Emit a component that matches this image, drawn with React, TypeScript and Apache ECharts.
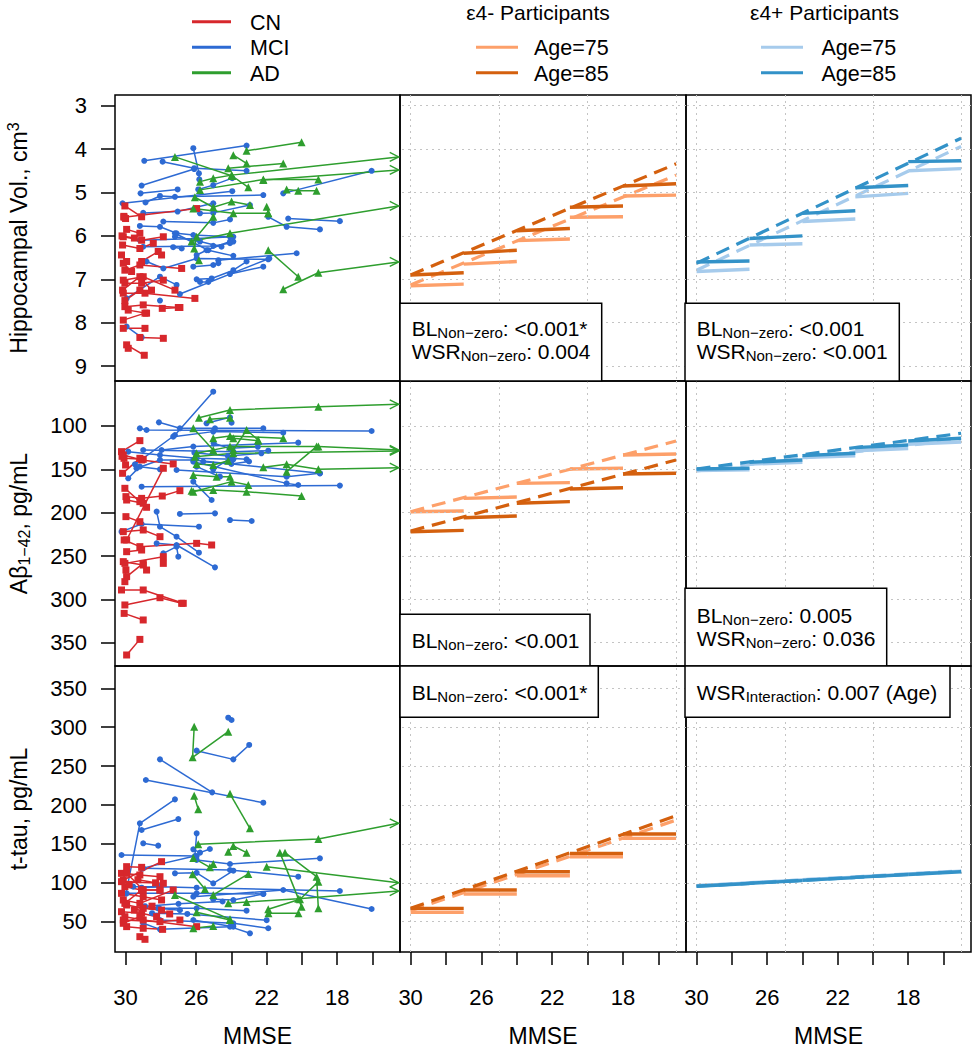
import React, { useEffect, useRef } from "react";
import * as echarts from "echarts";

const FONT = '"Liberation Sans", Arial, Helvetica, sans-serif';

// ---------- axes ----------
const X_MIN = 14.44;
const X_MAX = 30.6;
const X_TICKS = [16, 18, 20, 22, 24, 26, 28, 30];
const X_LABELS = [18, 22, 26, 30];
const X_GRID = [15, 20, 25, 30];
const HIPPO_TICKS = [3, 4, 5, 6, 7, 8, 9];
const ABETA_TICKS = [100, 150, 200, 250, 300, 350];
const TAU_TICKS = [50, 100, 150, 200, 250, 300, 350];
const Y_MIN = [2.754, 48.1, 11.1];
const Y_MAX = [9.343, 376.9, 378.7];
const Y_INVERSE = [true, true, false];
const Y_TICKS = [HIPPO_TICKS, ABETA_TICKS, TAU_TICKS];

// ---------- observed trajectories: [MMSE, value] ----------
const HIPPO_MCI = [
  [[28.94, 4.27], [23.14, 3.92]],
  [[27.9, 4.29], [26.11, 4.44], [23.14, 4.5]],
  [[26.16, 3.98], [25.84, 4.56], [25.82, 4.7]],
  [[29.09, 4.84], [26.11, 4.46]],
  [[29.15, 5.02], [27.05, 4.93]],
  [[30.17, 5.25], [23.95, 4.97]],
  [[28.87, 5.23], [28.05, 5.08], [27.2, 5.1], [22.19, 5.06]],
  [[21.06, 5.02], [16.05, 4.5]],
  [[29.0, 5.47], [27.05, 5.44], [25.03, 5.25]],
  [[25.88, 4.93], [25.03, 4.83], [23.95, 4.67]],
  [[25.78, 5.48], [25.03, 5.47], [22.95, 5.29]],
  [[29.19, 5.77], [28.05, 5.79], [27.11, 5.94], [26.16, 5.98], [24.08, 6.02]],
  [[27.86, 5.67], [25.03, 5.7], [24.08, 5.62]],
  [[21.91, 5.56], [20.87, 5.79], [18.98, 5.85]],
  [[20.78, 5.6], [17.85, 5.66]],
  [[29.19, 6.1], [25.97, 6.06], [23.89, 6.02]],
  [[27.2, 6.02], [25.78, 6.13], [24.56, 6.25]],
  [[28.81, 6.59], [27.86, 6.75], [25.97, 6.52], [21.91, 6.54]],
  [[25.97, 7.0], [25.12, 6.98], [23.89, 6.79], [23.14, 6.59]],
  [[24.74, 6.56], [20.3, 6.4]],
  [[24.08, 6.88], [22.19, 6.71]],
  [[26.92, 7.34], [21.85, 6.52]],
  [[29.94, 7.44], [28.05, 6.94], [27.11, 7.13]],
  [[29.94, 8.09], [29.09, 8.34]],
  [[26.16, 6.71], [25.03, 6.67], [24.74, 6.63]],
  [[27.3, 6.26], [26.82, 6.29]],
  [[29.0, 6.25], [25.03, 6.23], [24.08, 6.17], [23.89, 6.13]],
  [[28.05, 7.49]],
  [[25.78, 7.06], [25.31, 7.06]],
  [[25.97, 6.44], [25.41, 6.33], [24.08, 6.13]],
  [[27.2, 5.94], [25.31, 6.33], [23.89, 6.46]],
];
const HIPPO_AD = [
  [[23.14, 4.04], [20.02, 3.84]],
  [[23.89, 4.14], [23.14, 4.33]],
  [[27.2, 4.18], [23.95, 4.62], [23.04, 4.88]],
  [[24.18, 4.44], [21.06, 4.33]],
  [[25.78, 4.94], [22.19, 4.7], [19.07, 4.7]],
  [[20.87, 4.93], [20.21, 4.96], [19.17, 4.96]],
  [[26.07, 5.11], [25.03, 5.34], [23.99, 5.21], [22.95, 5.29]],
  [[26.16, 5.37], [23.89, 5.48], [21.91, 5.48]],
  [[22.0, 5.33], [21.91, 5.48]],
  [[25.03, 5.56], [25.97, 6.02], [26.11, 6.29], [25.84, 6.56]],
  [[21.91, 6.33], [20.21, 6.94]],
];
const HIPPO_AD_OUT = [
  [[25.78, 4.75], [25.03, 4.67], [23.99, 4.6], [14.54, 4.18]],
  [[22.19, 4.71], [14.54, 4.48]],
  [[26.26, 6.13], [24.08, 5.94], [14.54, 5.31]],
  [[21.06, 7.23], [19.07, 6.85], [14.54, 6.6]],
];
const HIPPO_CN = [
  [[30.04, 5.31], [29.09, 5.56]],
  [[30.09, 5.57], [25.97, 5.37]],
  [[29.94, 5.85], [29.19, 5.94]],
  [[30.13, 6.02], [29.09, 6.1], [27.86, 6.02]],
  [[30.23, 6.44], [29.94, 6.59]],
  [[29.09, 6.59], [28.15, 6.36], [27.96, 6.44]],
  [[30.04, 6.79], [29.19, 6.67], [26.82, 6.75]],
  [[30.13, 7.02], [29.0, 6.94], [27.2, 7.25]],
  [[30.04, 7.09], [29.09, 7.09], [27.86, 7.02]],
  [[30.13, 7.32], [28.9, 7.32], [26.07, 7.44]],
  [[30.04, 7.63], [29.0, 7.59], [27.01, 7.65]],
  [[29.85, 7.71], [28.81, 7.78]],
  [[30.13, 7.94], [28.9, 7.78]],
  [[30.13, 8.13], [28.9, 8.13]],
  [[27.92, 7.67], [26.92, 7.65]],
  [[29.19, 8.34], [27.86, 8.36]],
  [[29.94, 8.51], [28.94, 8.75]],
  [[29.85, 8.59]],
  [[30.17, 7.25], [29.19, 6.94], [28.53, 7.25]],
  [[30.17, 6.21], [29.19, 6.29], [28.43, 6.17]],
  [[30.04, 7.49], [29.19, 7.25]],
  [[30.13, 6.63], [29.66, 6.82]],
  [[30.1, 5.55], [30.0, 5.6]],
  [[30.2, 6.0], [29.5, 6.05]],
];

const ABETA_MCI = [
  [[29.47, 144.2], [27.2, 110.4], [25.03, 60.4]],
  [[29.19, 102.7], [28.81, 104.6], [16.05, 105.8]],
  [[28.11, 95.8], [26.92, 102.7], [24.93, 102.7], [22.19, 102.7]],
  [[27.3, 112.3], [25.03, 106.5], [21.06, 107.7]],
  [[27.96, 127.7], [26.16, 123.8], [20.21, 119.2]],
  [[29.0, 127.7], [23.89, 129.6], [21.91, 128.5]],
  [[29.85, 129.6], [28.05, 133.5], [25.97, 137.3], [23.89, 138.5]],
  [[29.38, 148.8], [28.05, 139.2], [26.16, 139.2], [18.98, 154.6]],
  [[29.09, 170], [17.85, 168.8]],
  [[26.16, 164.2], [25.12, 185.4]],
  [[27.11, 150.8], [20.87, 158.5], [18.98, 154.6]],
  [[29.85, 160.4], [29.19, 146.9], [28.05, 150]],
  [[26.92, 201.5], [24.93, 200.8]],
  [[24.08, 208.5], [22.85, 209.6]],
  [[30.23, 221.9], [29.09, 213.1], [25.84, 216.2]],
  [[28.24, 198.8], [28.05, 216.2], [27.11, 227.7], [25.84, 246.2]],
  [[28.24, 235.4], [27.11, 237.3], [24.93, 263.1]],
  [[27.86, 246.9], [27.11, 239.2], [27.01, 250.8]],
  [[25.41, 96.9], [24.08, 90], [23.99, 96.2]],
  [[26.16, 141.2], [20.87, 166.2], [20.21, 168.1]],
  [[25.03, 150], [24.08, 137.3], [23.14, 138.5]],
  [[25.97, 146.9], [24.65, 158.5]],
  [[26.1, 130.8], [24.2, 134.6], [22.3, 131.5]],
  [[25.6, 141.2], [24.0, 143.8], [23.0, 141]],
  [[25.0, 120], [24.1, 125.8], [22.5, 124]],
];
const ABETA_AD = [
  [[25.22, 92.3], [24.08, 90.4]],
  [[26.16, 102.7], [25.03, 127.7]],
  [[23.89, 127.7], [23.14, 104.6], [22.48, 116.2]],
  [[25.03, 114.2], [24.08, 111.5], [21.06, 114.2]],
  [[20.87, 152.7], [19.17, 123.8]],
  [[26.16, 156.5], [24.84, 158.5], [24.08, 158.5]],
  [[26.26, 174.6], [25.03, 173.8], [23.14, 175.8], [20.02, 180.8]],
  [[26.16, 175.8], [23.99, 164.2], [23.04, 168.1]],
  [[23.89, 114.2], [22.48, 116.9]],
  [[25.97, 143.8], [25.03, 145], [24.18, 140]],
];
const ABETA_AD_OUT = [
  [[25.84, 90.4], [24.08, 81.5], [19.07, 77.7], [14.54, 75]],
  [[25.97, 131.5], [24.08, 123.8], [19.07, 123.8], [14.54, 127.7]],
  [[26.07, 135.4], [23.89, 131.5], [14.54, 128.8]],
  [[22.19, 147.7], [20.87, 144.2], [19.07, 150], [14.54, 148.1]],
];
const ABETA_CN = [
  [[30.23, 129.6], [29.19, 116.9]],
  [[30.13, 133.5], [29.09, 139.2], [27.3, 143.8]],
  [[30.09, 137.3], [29.0, 138.5]],
  [[30.17, 154.6], [29.19, 137.3]],
  [[30.04, 171.9], [29.19, 187.3], [28.81, 193.8]],
  [[29.98, 181.5], [29.09, 183.5], [27.92, 180.8], [26.92, 174.6]],
  [[29.94, 185.4], [29.0, 189.2]],
  [[29.98, 204.6], [29.19, 210.4]],
  [[30.13, 221.9], [29.0, 220], [28.05, 227.7]],
  [[30.08, 231.5], [29.19, 239.2], [25.97, 235.4], [25.12, 237.3]],
  [[29.94, 245], [29.09, 243.1]],
  [[30.13, 256.5], [29.0, 260.4], [28.81, 266.2]],
  [[30.04, 258.5], [27.86, 250.8], [27.86, 258.5]],
  [[30.23, 289.2], [29.0, 289.2], [26.73, 304.6]],
  [[30.04, 306.5], [28.05, 298.1], [26.82, 304.6]],
  [[30.08, 316.2], [29.0, 323.8]],
  [[29.94, 364.2], [29.19, 346.2]],
  [[30.04, 279.6], [29.98, 266.2]],
  [[29.94, 273.8], [29.0, 258.5]],
  [[29.94, 231.5], [27.86, 148.8]],
  [[30.2, 135], [30.0, 145]],
];

const TAU_MCI = [
  [[24.18, 312.3], [23.99, 309.3]],
  [[25.97, 269.9], [23.89, 258.7], [22.99, 277.2]],
  [[28.05, 258.7], [25.09, 216.3]],
  [[28.85, 232.2], [22.19, 203]],
  [[29.98, 86], [29.19, 176.5], [27.2, 207.3]],
  [[29.09, 167.9], [27.01, 182]],
  [[29.0, 150.8], [28.15, 147.8]],
  [[30.23, 135.8], [25.97, 134.5]],
  [[29.09, 118.6], [26.07, 134.5], [25.97, 163.6]],
  [[26.16, 143.1], [25.78, 138.8], [25.22, 143.5]],
  [[25.97, 129.4], [24.08, 124.2], [18.98, 131.5]],
  [[29.0, 118.6], [24.08, 116.5], [20.21, 107.9]],
  [[29.09, 93.8], [28.05, 95.1], [25.97, 93.8], [17.85, 89.5]],
  [[27.2, 112.2], [25.97, 112.9], [25.03, 99.4], [23.89, 115.6]],
  [[29.57, 95.1], [28.05, 95.1]],
  [[29.94, 86.5], [25.97, 86.5], [22.19, 85.7]],
  [[28.09, 67.2], [25.97, 67.2], [23.14, 64.2]],
  [[29.0, 48], [28.05, 40.2], [24.08, 43.7], [22.95, 35.1]],
  [[28.05, 52.2], [23.89, 48], [21.91, 41.6]],
  [[26.16, 82.2], [21.06, 90.8], [16.05, 66.4]],
  [[25.03, 78.8], [23.89, 77.9], [22.19, 85.7]],
  [[28.15, 67.2], [26.92, 64.9]],
  [[26.16, 52.2], [23.89, 43.7]],
  [[28.9, 70], [27.0, 73], [24.5, 76]],
  [[28.5, 61], [26.5, 60], [22.0, 52]],
];
const TAU_AD = [
  [[26.11, 300.7], [26.2, 261.3], [24.18, 294.3]],
  [[26.11, 212], [25.88, 194.5]],
  [[24.08, 214.5], [22.95, 170.1]],
  [[26.16, 132], [25.22, 119.9], [25.03, 124.2]],
  [[24.18, 140.1], [23.89, 147.3], [23.14, 138.8]],
  [[27.2, 84.4], [24.08, 53.1]],
  [[25.03, 84.4], [23.04, 111.4]],
  [[26.16, 41.6], [25.03, 44.5]],
  [[25.97, 62.1], [24.08, 52.2]],
  [[21.25, 138.8], [20.02, 69.4]],
  [[21.91, 66], [20.11, 78.8], [19.07, 101.5]],
  [[26.2, 111], [25.5, 92]],
  [[21.9, 60.8], [20.2, 60.8]],
  [[20.96, 138.8], [19.17, 107.9], [19.07, 67.2]],
];
const TAU_AD_OUT = [
  [[25.88, 149.5], [19.07, 156.3], [14.54, 176.5]],
  [[22.0, 120.8], [14.54, 100.2]],
  [[24.18, 73.6], [23.14, 75.5], [20.21, 79.7], [14.54, 89.5]],
];
const TAU_CN = [
  [[29.94, 120.8], [29.09, 119.9]],
  [[30.23, 112.2], [29.19, 110.1], [28.05, 107.9]],
  [[30.13, 103.6], [27.96, 127.2]],
  [[30.04, 95.1], [29.09, 90.8], [28.05, 90.8]],
  [[30.23, 86.5], [29.0, 82.2], [27.96, 78]],
  [[30.13, 77.9], [29.19, 73.6], [27.3, 90.8]],
  [[29.94, 71.5], [29.0, 67.2], [27.96, 64.9]],
  [[30.23, 62.9], [29.09, 60.8], [28.24, 56.5]],
  [[30.04, 56.5], [29.0, 52.2], [25.97, 43.7]],
  [[29.94, 43.7], [29.0, 41.6], [27.9, 40.2]],
  [[29.19, 30.8], [28.9, 27.4]],
  [[30.13, 52.2], [28.05, 50.1], [26.92, 52.2]],
  [[30.23, 101.5], [27.86, 99.4]],
  [[29.94, 112.2], [29.0, 90.8]],
  [[30.13, 48], [29.19, 56.5]],
  [[30.04, 73.6], [29.09, 90.8], [28.05, 90.8]],
  [[29.5, 65], [28.5, 70], [27.5, 60]],
  [[29.8, 98], [29.3, 104], [28.3, 100]],
];

// ---------- model predictions ----------
const DASH_X = [30, 15];
const STEP_FROM = [30, 27, 24, 21, 18];
const STEP_TO = [27, 24, 21, 18, 15];

const HIP_NEG_DASH_75 = [7.13, 4.6];
const HIP_NEG_DASH_85 = [6.9, 4.34];
const HIP_NEG_FROM_75 = [7.15, 6.65, 6.11, 5.57, 5.08];
const HIP_NEG_TO_75 = [7.11, 6.59, 6.07, 5.56, 5.06];
const HIP_NEG_FROM_85 = [6.9, 6.4, 5.88, 5.34, 4.85];
const HIP_NEG_TO_85 = [6.85, 6.33, 5.83, 5.31, 4.8];

const HIP_POS_DASH_75 = [6.79, 3.94];
const HIP_POS_DASH_85 = [6.63, 3.75];
const HIP_POS_FROM_75 = [6.82, 6.21, 5.67, 5.1, 4.5];
const HIP_POS_TO_75 = [6.77, 6.18, 5.61, 5.02, 4.45];
const HIP_POS_FROM_85 = [6.6, 6.06, 5.48, 4.89, 4.29];
const HIP_POS_TO_85 = [6.58, 6.0, 5.42, 4.84, 4.27];

const AB_NEG_DASH_75 = [198.9, 117.3];
const AB_NEG_DASH_85 = [221.2, 139.2];
const AB_NEG_FROM_75 = [198.9, 183.5, 166.2, 149.6, 133.5];
const AB_NEG_TO_75 = [198.1, 182.0, 165.4, 148.8, 132.3];
const AB_NEG_FROM_85 = [222.0, 205.8, 189.2, 172.7, 155.4];
const AB_NEG_TO_85 = [220.4, 203.8, 187.3, 171.2, 154.6];

const AB_POS_DASH_75 = [151.9, 115.0];
const AB_POS_DASH_85 = [149.6, 108.4];
const AB_POS_FROM_75 = [151.5, 144.0, 136.5, 128.5, 121.0];
const AB_POS_TO_75 = [150.5, 142.0, 134.5, 126.0, 118.5];
const AB_POS_FROM_85 = [149.6, 141.9, 134.2, 125.0, 117.3];
const AB_POS_TO_85 = [148.8, 139.2, 131.5, 121.9, 114.2];

const TAU_NEG_DASH_75 = [64.2, 180.7];
const TAU_NEG_DASH_85 = [67.2, 186.2];
const TAU_NEG_FROM_75 = [62.1, 85.6, 109.1, 133.6, 157.2];
const TAU_NEG_TO_75 = [62.1, 85.6, 109.1, 133.6, 157.2];
const TAU_NEG_FROM_85 = [67.2, 90.7, 114.3, 137.9, 162.7];
const TAU_NEG_TO_85 = [67.2, 90.7, 114.3, 137.9, 162.7];

const TAU_POS_DASH_75 = [96.3, 115.3];
const TAU_POS_DASH_85 = [95.6, 114.6];
const TAU_POS_FROM_75 = [96.3, 100.1, 103.9, 107.7, 111.5];
const TAU_POS_TO_75 = [99.8, 103.6, 107.4, 111.2, 115.0];
const TAU_POS_FROM_85 = [95.6, 99.4, 103.2, 107.0, 110.8];
const TAU_POS_TO_85 = [99.1, 102.9, 106.7, 110.5, 114.3];

// ---------- colours & labels ----------
const GROUP_NAMES = ["CN", "MCI", "AD"];
const GROUP_COLORS = ["#D7272C", "#2D6AD3", "#2E9E2E"];
const ORANGES = ["#FDA06A", "#D4600E"];
const BLUES = ["#A6CBEC", "#3392C8"];
const AGE_LABELS = ["Age=75", "Age=85"];
const PANEL_TITLES = ["ε4- Participants", "ε4+ Participants"];

const COL_LEFTS = [115, 400, 686];
const COL_WIDTHS = [285, 286, 285];
const ROW_TOPS = [95, 381, 666];
const ROW_HEIGHTS = [286, 285, 286];

const ARROW = "path://M0,0L10,5L0,10";

function trajSeries(list: number[][][], color: string, symbol: string, size: number, grid: number, arrow: boolean) {
  return list.map((pts) => ({
    type: "line",
    xAxisIndex: grid,
    yAxisIndex: grid,
    symbol,
    symbolSize: size,
    showSymbol: true,
    silent: true,
    z: 3,
    lineStyle: { color, width: 1.5 },
    itemStyle: { color },
    data: pts.map((p, i) =>
      arrow && i === pts.length - 1
        ? {
            value: p,
            symbol: ARROW,
            symbolSize: [9, 9],
            symbolOffset: [-4, 0],
            itemStyle: { color: "rgba(0,0,0,0)", borderColor: color, borderWidth: 1.4 },
          }
        : p
    ),
  }));
}

function modelSeries(grid: number, colors: string[], yGrid: number[], d75: number[], d85: number[], f75: number[], t75: number[], f85: number[], t85: number[]) {
  const out: any[] = [];
  out.push({
    type: "line",
    xAxisIndex: grid,
    yAxisIndex: grid,
    silent: true,
    symbol: "none",
    z: 1,
    lineStyle: { opacity: 0 },
    data: DASH_X.map((x, i) => [x, d75[i]]),
    markLine: {
      silent: true,
      symbol: ["none", "none"],
      label: { show: false },
      animation: false,
      lineStyle: { color: "#C4C4C4", width: 1, type: [2, 4] },
      data: [...X_GRID.map((v) => ({ xAxis: v })), ...yGrid.map((v) => ({ yAxis: v }))],
    },
  });
  const sets = [
    { c: colors[0], d: d75, f: f75, t: t75 },
    { c: colors[1], d: d85, f: f85, t: t85 },
  ];
  sets.forEach((s, k) => {
    out.push({
      type: "line",
      xAxisIndex: grid,
      yAxisIndex: grid,
      silent: true,
      symbol: "none",
      z: 4 + k,
      lineStyle: { color: s.c, width: 3.2, type: [14, 8], cap: "butt" },
      data: DASH_X.map((x, i) => [x, s.d[i]]),
    });
    STEP_FROM.forEach((x0, i) => {
      out.push({
        type: "line",
        xAxisIndex: grid,
        yAxisIndex: grid,
        silent: true,
        symbol: "none",
        z: 4 + k,
        lineStyle: { color: s.c, width: 3.4 },
        data: [
          [x0, s.f[i]],
          [STEP_TO[i], s.t[i]],
        ],
      });
    });
  });
  return out;
}

const BOX_RICH = {
  m: { fontSize: 21, fontFamily: FONT, fill: "#000", color: "#000", lineHeight: 23, verticalAlign: "middle" },
  s: { fontSize: 15, fontFamily: FONT, fill: "#000", color: "#000", lineHeight: 12, verticalAlign: "bottom" },
};
const TITLE_RICH = {
  m: { fontSize: 23, fontFamily: FONT, fill: "#000", color: "#000", lineHeight: 27, verticalAlign: "middle" },
  s: { fontSize: 16, fontFamily: FONT, fill: "#000", color: "#000", lineHeight: 14, verticalAlign: "bottom" },
  u: { fontSize: 16, fontFamily: FONT, fill: "#000", color: "#000", lineHeight: 12, verticalAlign: "top" },
};

const BOXES = [
  { x: 400, y: 303.3, w: 201.7, h: 77.7, tx: 411.7, ty: 316.5, text: "{m|BL}{s|Non−zero}{m|: <0.001*}\n{m|WSR}{s|Non−zero}{m|: 0.004}" },
  { x: 685, y: 303.3, w: 214.3, h: 77.7, tx: 696.7, ty: 316.5, text: "{m|BL}{s|Non−zero}{m|: <0.001}\n{m|WSR}{s|Non−zero}{m|: <0.001}" },
  { x: 400, y: 614.3, w: 190, h: 51.7, tx: 411.7, ty: 629, text: "{m|BL}{s|Non−zero}{m|: <0.001}" },
  { x: 685, y: 588.3, w: 201.7, h: 77.7, tx: 696.7, ty: 603.5, text: "{m|BL}{s|Non−zero}{m|: 0.005}\n{m|WSR}{s|Non−zero}{m|: 0.036}" },
  { x: 400, y: 666, w: 198.3, h: 51.3, tx: 411.7, ty: 681, text: "{m|BL}{s|Non−zero}{m|: <0.001*}" },
  { x: 685, y: 666, w: 265, h: 51.3, tx: 696.7, ty: 681, text: "{m|WSR}{s|Interaction}{m|: 0.007 (Age)}" },
];

function txt(x: number, y: number, text: string, size: number, align = "left", extra: any = {}) {
  return {
    type: "text",
    x,
    y,
    silent: true,
    z: 100,
    ...extra,
    style: {
      text,
      fontSize: size,
      fontFamily: FONT,
      fill: "#000",
      textAlign: align,
      textVerticalAlign: "middle",
      align,
      verticalAlign: "middle",
    },
  };
}

function buildOption() {
  const grid: any[] = [];
  const xAxis: any[] = [];
  const yAxis: any[] = [];
  for (let r = 0; r < 3; r++) {
    for (let c = 0; c < 3; c++) {
      const i = r * 3 + c;
      grid.push({
        left: COL_LEFTS[c],
        top: ROW_TOPS[r],
        width: COL_WIDTHS[c],
        height: ROW_HEIGHTS[r],
        show: true,
        borderColor: "#000",
        borderWidth: 1.5,
        backgroundColor: "transparent",
        containLabel: false,
        outerBoundsMode: "none",
      });
      const showX = r === 2;
      xAxis.push({
        type: "value",
        gridIndex: i,
        min: X_MIN,
        max: X_MAX,
        inverse: true,
        axisLine: { show: false },
        splitLine: { show: false },
        axisTick: { show: showX, customValues: X_TICKS, length: 13, lineStyle: { color: "#000", width: 1.5 } },
        axisLabel: { show: showX, customValues: X_LABELS, margin: 34, fontSize: 22, fontFamily: FONT, color: "#000" },
      });
      const showY = c === 0;
      yAxis.push({
        type: "value",
        gridIndex: i,
        min: Y_MIN[r],
        max: Y_MAX[r],
        inverse: Y_INVERSE[r],
        axisLine: { show: false },
        splitLine: { show: false },
        axisTick: { show: showY, customValues: Y_TICKS[r], length: 14, lineStyle: { color: "#000", width: 1.5 } },
        axisLabel: { show: showY, customValues: Y_TICKS[r], margin: 28, fontSize: 22, fontFamily: FONT, color: "#000" },
      });
    }
  }

  const series: any[] = [];
  const spaghetti = [
    { g: 0, cn: HIPPO_CN, mci: HIPPO_MCI, ad: HIPPO_AD, out: HIPPO_AD_OUT },
    { g: 3, cn: ABETA_CN, mci: ABETA_MCI, ad: ABETA_AD, out: ABETA_AD_OUT },
    { g: 6, cn: TAU_CN, mci: TAU_MCI, ad: TAU_AD, out: TAU_AD_OUT },
  ];
  spaghetti.forEach((p) => {
    series.push(...trajSeries(p.mci, GROUP_COLORS[1], "circle", 6, p.g, false));
    series.push(...trajSeries(p.cn, GROUP_COLORS[0], "rect", 7, p.g, false));
    series.push(...trajSeries(p.ad, GROUP_COLORS[2], "triangle", 8, p.g, false));
    series.push(...trajSeries(p.out, GROUP_COLORS[2], "triangle", 8, p.g, true));
  });

  series.push(...modelSeries(1, ORANGES, HIPPO_TICKS, HIP_NEG_DASH_75, HIP_NEG_DASH_85, HIP_NEG_FROM_75, HIP_NEG_TO_75, HIP_NEG_FROM_85, HIP_NEG_TO_85));
  series.push(...modelSeries(2, BLUES, HIPPO_TICKS, HIP_POS_DASH_75, HIP_POS_DASH_85, HIP_POS_FROM_75, HIP_POS_TO_75, HIP_POS_FROM_85, HIP_POS_TO_85));
  series.push(...modelSeries(4, ORANGES, ABETA_TICKS, AB_NEG_DASH_75, AB_NEG_DASH_85, AB_NEG_FROM_75, AB_NEG_TO_75, AB_NEG_FROM_85, AB_NEG_TO_85));
  series.push(...modelSeries(5, BLUES, ABETA_TICKS, AB_POS_DASH_75, AB_POS_DASH_85, AB_POS_FROM_75, AB_POS_TO_75, AB_POS_FROM_85, AB_POS_TO_85));
  series.push(...modelSeries(7, ORANGES, TAU_TICKS, TAU_NEG_DASH_75, TAU_NEG_DASH_85, TAU_NEG_FROM_75, TAU_NEG_TO_75, TAU_NEG_FROM_85, TAU_NEG_TO_85));
  series.push(...modelSeries(8, BLUES, TAU_TICKS, TAU_POS_DASH_75, TAU_POS_DASH_85, TAU_POS_FROM_75, TAU_POS_TO_75, TAU_POS_FROM_85, TAU_POS_TO_85));

  const graphic: any[] = [];
  const legendY = [21.7, 47.3, 72.7];
  GROUP_NAMES.forEach((name, i) => {
    graphic.push({ type: "line", silent: true, z: 100, shape: { x1: 192, y1: legendY[i], x2: 231, y2: legendY[i] }, style: { stroke: GROUP_COLORS[i], lineWidth: 3 } });
    graphic.push(txt(250, legendY[i] + 1, name, 21.5));
  });
  const ageCols = [
    { cx: 538, lx: 476, tx: 534, colors: ORANGES },
    { cx: 824.5, lx: 761, tx: 821.5, colors: BLUES },
  ];
  ageCols.forEach((a, k) => {
    graphic.push(txt(a.cx, 12, PANEL_TITLES[k], 21, "center"));
    AGE_LABELS.forEach((lab, j) => {
      const y = legendY[j + 1];
      graphic.push({ type: "line", silent: true, z: 100, shape: { x1: a.lx, y1: y, x2: a.lx + 42, y2: y }, style: { stroke: a.colors[j], lineWidth: 3 } });
      graphic.push(txt(a.tx, y + 1, lab, 21.5));
    });
  });

  // axis titles
  const yTitles = [
    { y: 238, text: "{m|Hippocampal Vol., cm}{u|3}" },
    { y: 523.5, text: "{m|Aβ}{s|1−42}{m|, pg/mL}" },
    { y: 809, text: "{m|t-tau, pg/mL}" },
  ];
  yTitles.forEach((t) => {
    graphic.push({
      type: "text",
      x: 19,
      y: t.y,
      rotation: Math.PI / 2,
      silent: true,
      z: 100,
      style: { text: t.text, rich: TITLE_RICH, fontSize: 23, fontFamily: FONT, fill: "#000", textAlign: "center", textVerticalAlign: "middle", align: "center", verticalAlign: "middle" },
    });
  });
  [257.5, 543, 828.5].forEach((x) => graphic.push(txt(x, 1036, "MMSE", 23, "center")));

  BOXES.forEach((b) => {
    graphic.push({ type: "rect", silent: true, z: 100, shape: { x: b.x, y: b.y, width: b.w, height: b.h }, style: { fill: "#fff", stroke: "#000", lineWidth: 1.5 } });
    graphic.push({
      type: "text",
      x: b.tx,
      y: b.ty,
      silent: true,
      z: 101,
      style: { text: b.text, rich: BOX_RICH, fontSize: 21, fontFamily: FONT, fill: "#000", textAlign: "left", textVerticalAlign: "top", align: "left", verticalAlign: "top" },
    });
  });

  return {
    animation: false,
    backgroundColor: "#fff",
    textStyle: { fontFamily: FONT },
    grid,
    xAxis,
    yAxis,
    series,
    graphic,
  };
}

export default function App() {
  const ref = useRef<HTMLDivElement>(null);
  useEffect(() => {
    if (!ref.current) return;
    const chart = echarts.init(ref.current, null, { renderer: "svg" });
    chart.setOption(buildOption() as any);
    return () => chart.dispose();
  }, []);
  return <div ref={ref} style={{ position: "absolute", left: 0, top: 0, width: 972, height: 1050, background: "#fff" }} />;
}
